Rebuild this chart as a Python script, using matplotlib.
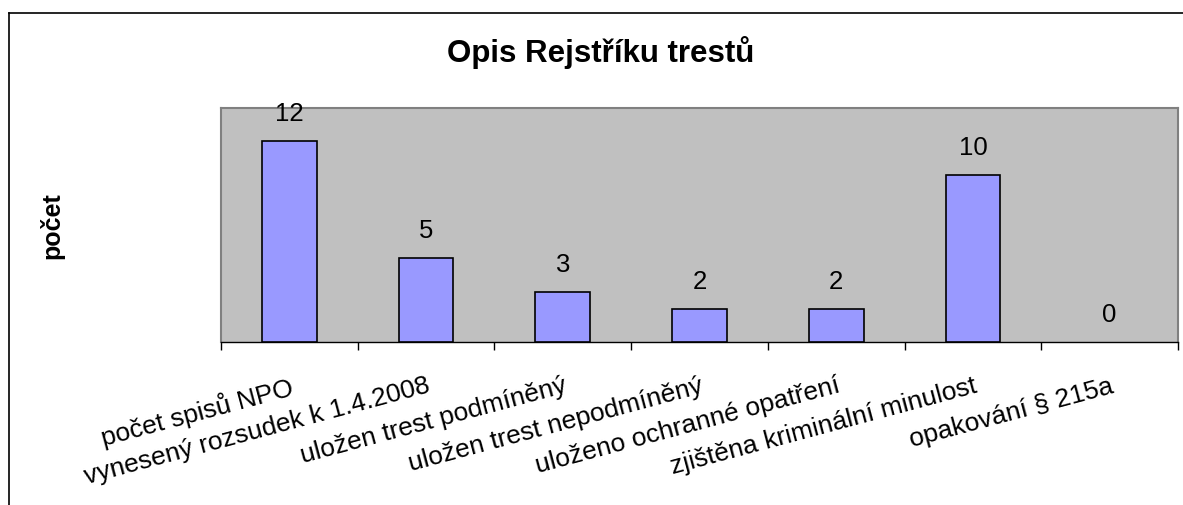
import matplotlib
matplotlib.use("Agg")
import matplotlib.pyplot as plt
from matplotlib.lines import Line2D
import numpy as np

plt.rcParams['font.family'] = ['Liberation Sans', 'DejaVu Sans']

categories = [
    "počet spisů NPO",
    "vynesený rozsudek k 1.4.2008",
    "uložen trest podmíněný",
    "uložen trest nepodmíněný",
    "uloženo ochranné opatření",
    "zjištěna kriminální minulost",
    "opakování § 215a",
]
values = [12, 5, 3, 2, 2, 10, 0]
title = "Opis Rejstříku trestů"
ylabel = "počet"

W, H = 1183, 505
fig = plt.figure(figsize=(W / 100, H / 100), dpi=100)
ax = fig.add_axes([221 / W, 1 - 342 / H, (1178 - 221) / W, (342 - 108) / H])

x = np.arange(len(categories))
ax.set_facecolor('#C0C0C0')
bars = ax.bar(x, values, width=0.4, color='#9999FF', edgecolor='black', linewidth=1.2, zorder=3)
for b, v in zip(bars, values):
    if v == 0:
        b.set_edgecolor('none')
for xi, v in zip(x, values):
    ax.annotate(str(v), (xi, v), xytext=(0, 14.4), textcoords='offset points',
                ha='center', va='baseline', fontsize=18.5)

ax.set_xlim(-0.5, len(categories) - 0.5)
ax.set_ylim(0, 14)
ax.set_yticks([])

ax.set_xticks(x)
ax.set_xticklabels(categories, rotation=15, ha='right', va='top',
                   rotation_mode='anchor', fontsize=19)
ax.tick_params(axis='x', which='major', length=0, pad=23)
ax.set_xticks(np.arange(-0.5, len(categories), 1.0), minor=True)
ax.tick_params(axis='x', which='minor', length=5.8, width=1.0, color='black', direction='out')

for side in ['left', 'top', 'right']:
    ax.spines[side].set_color('#808080')
    ax.spines[side].set_linewidth(1.5)
ax.spines['bottom'].set_color('black')
ax.spines['bottom'].set_linewidth(1.0)

fig.text(601 / W, 1 - 62 / H, title, ha='center', va='baseline', fontsize=22.5, fontweight='bold')
fig.text(52 / W, 1 - 226 / H, ylabel, ha='center', va='center', rotation=90,
         fontsize=18, fontweight='bold')

# chart area frame (left and top edges visible)
fig.add_artist(Line2D([8.5 / W, 8.5 / W], [-0.1, 1 - 12.5 / H], transform=fig.transFigure,
                      color='black', linewidth=1.2))
fig.add_artist(Line2D([8.5 / W, 1.1], [1 - 12.5 / H, 1 - 12.5 / H], transform=fig.transFigure,
                      color='black', linewidth=1.2))

fig.savefig('out.png', dpi=100)
